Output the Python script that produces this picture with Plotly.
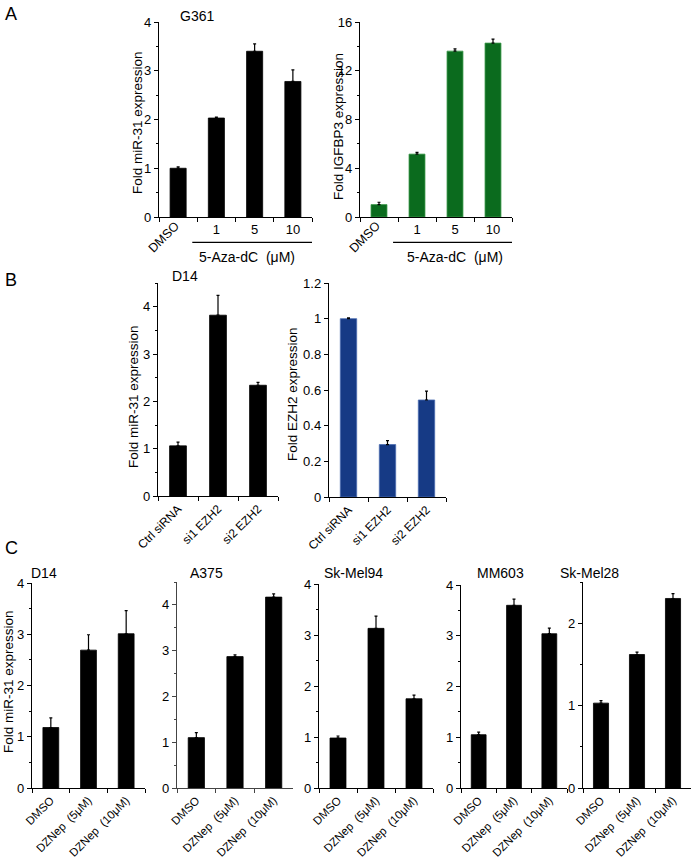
import plotly.graph_objects as go

W, H = 693, 859

# ---------------- data ----------------
A_cats = ["DMSO", "1", "5", "10"]
A_mir31 = [1.0, 2.03, 3.40, 2.78]
A_mir31_err = [0.03, 0.02, 0.15, 0.24]
A_igfbp3 = [1.02, 5.16, 13.61, 14.27]
A_igfbp3_err = [0.19, 0.14, 0.19, 0.33]

B_cats = ["Ctrl siRNA", "si1 EZH2", "si2 EZH2"]
B_mir31 = [1.06, 3.82, 2.34]
B_mir31_err = [0.08, 0.42, 0.06]
B_ezh2 = [1.0, 0.294, 0.544]
B_ezh2_err = [0.005, 0.022, 0.05]

C_cats = ["DMSO", "DZNep\u00a0\u00a0(5μM)", "DZNep\u00a0\u00a0(10μM)"]
C_lines = ["D14", "A375", "Sk-Mel94", "MM603", "Sk-Mel28"]
C_vals = {
    "D14": [1.18, 2.69, 3.01],
    "A375": [1.10, 2.87, 4.17],
    "Sk-Mel94": [0.98, 3.13, 1.75],
    "MM603": [1.05, 3.60, 3.04],
    "Sk-Mel28": [1.03, 1.62, 2.30],
}
C_errs = {
    "D14": [0.19, 0.30, 0.45],
    "A375": [0.11, 0.04, 0.07],
    "Sk-Mel94": [0.04, 0.24, 0.07],
    "MM603": [0.05, 0.12, 0.11],
    "Sk-Mel28": [0.03, 0.03, 0.06],
}
C_ymax = {"D14": 4, "A375": 4.5, "Sk-Mel94": 4, "MM603": 4, "Sk-Mel28": 2.5}

FONT = "Arial, Liberation Sans, Helvetica, sans-serif"
GREEN = "#0b6b1e"
BLUE = "#163a85"

fig = go.Figure()
layout = {}
annotations = []
shapes = []


def px(x):
    return x / W


def py(y):
    return 1 - y / H


def add_panel(i, cats, vals, errs, color, xl, xr, yt, yb, ymax, dtick, minor,
              ticktext=None, tickangle=0, tfs=12, line_color="black", edge=None):
    xa = "x" if i == 1 else f"x{i}"
    ya = "y" if i == 1 else f"y{i}"
    fig.add_trace(go.Bar(
        x=cats, y=vals, width=0.42, xaxis=xa, yaxis=ya,
        marker=dict(color=color, line=dict(color=edge or color, width=0.8)),
        error_y=dict(type="data", symmetric=False, array=errs,
                     arrayminus=[0] * len(errs), color="black",
                     thickness=1.2, width=1.5),
        showlegend=False, hoverinfo="skip",
    ))
    xk = "xaxis" if i == 1 else f"xaxis{i}"
    yk = "yaxis" if i == 1 else f"yaxis{i}"
    layout[xk] = dict(
        domain=[px(xl), px(xr)], anchor=ya, type="category", automargin=False,
        range=[-0.5, len(cats) - 0.5],
        showline=True, linecolor=line_color, linewidth=1.2,
        ticks="outside", tickson="boundaries", ticklen=4, tickcolor=line_color,
        tickvals=cats, ticktext=ticktext if ticktext is not None else cats,
        tickangle=tickangle, tickfont=dict(family=FONT, size=tfs, color="black"),
        showgrid=False, zeroline=False, fixedrange=True,
    )
    ydict = dict(
        domain=[py(yb), py(yt)], anchor=xa, range=[0, ymax], automargin=False,
        showline=True, linecolor=line_color, linewidth=1.2,
        ticks="outside", ticklen=4, tickcolor=line_color, dtick=dtick, tick0=0,
        tickfont=dict(family=FONT, size=13, color="black"),
        showgrid=False, zeroline=False, fixedrange=True,
    )
    if minor:
        ydict["minor"] = dict(dtick=minor, ticks="outside", ticklen=2,
                              tickcolor=line_color, showgrid=False)
    layout[yk] = ydict


def text(x, y, s, size=13, angle=0, xanchor="center", yanchor="middle"):
    annotations.append(dict(
        x=px(x), y=py(y), xref="paper", yref="paper", text=s, showarrow=False,
        textangle=angle, xanchor=xanchor, yanchor=yanchor,
        font=dict(family=FONT, size=size, color="black"),
    ))


# ---------------- panel A ----------------
a_ticktext = ["" if c == "DMSO" else c for c in A_cats]
add_panel(1, A_cats, A_mir31, A_mir31_err, "black", 159, 312, 22, 217, 4, 1, 0.5,
          ticktext=a_ticktext, tfs=13)
add_panel(2, A_cats, A_igfbp3, A_igfbp3_err, GREEN, 360, 512, 22, 217, 16, 4, 2,
          ticktext=a_ticktext, tfs=13, edge="#3f9a4c")
for ax, ref in (("x", "y"), ("x2", "y2")):
    annotations.append(dict(
        x=A_cats[0], y=0, xref=ax, yref=ref, text="DMSO", showarrow=False,
        textangle=-45, xanchor="center", yanchor="middle", xshift=-14, yshift=-20,
        font=dict(family=FONT, size=12.5, color="black"),
    ))
    shapes.append(dict(type="line", xref=ax, yref=ref + " domain",
                       x0=0.37, x1=3.5, y0=-0.13, y1=-0.13,
                       line=dict(color="black", width=1.2)))
text(247, 257, "5-Aza-dC\u00a0\u00a0(μM)", size=14)
text(455, 257, "5-Aza-dC\u00a0\u00a0(μM)", size=14)
text(197, 16, "G361", size=14)
text(137, 123, "Fold miR-31 expression", size=13.5, angle=-90)
text(338, 127, "Fold IGFBP3 expression", size=13.5, angle=-90)
text(3, 14, "A", size=18, xanchor="left")

# ---------------- panel B ----------------
add_panel(3, B_cats, B_mir31, B_mir31_err, "black", 158, 278, 283, 496, 4.5, 1, 0.5,
          tickangle=-45, tfs=12)
add_panel(4, B_cats, B_ezh2, B_ezh2_err, BLUE, 329, 446, 283, 497, 1.2, 0.2, None,
          tickangle=-45, tfs=12, edge="#4a6cb0")
text(185, 276, "D14", size=14)
text(133, 397, "Fold miR-31 expression", size=13.5, angle=-90)
text(292, 394, "Fold EZH2 expression", size=13.5, angle=-90)
text(3, 280, "B", size=18, xanchor="left")

# ---------------- panel C ----------------
C_pos = {
    "D14": (32, 145, 583),
    "A375": (177, 293, 582),
    "Sk-Mel94": (319, 433, 584),
    "MM603": (461, 567, 585),
    "Sk-Mel28": (583, 691, 582),
}
C_title_x = {"D14": 44, "A375": 206, "Sk-Mel94": 353, "MM603": 500, "Sk-Mel28": 589}
for k, name in enumerate(C_lines):
    xl, xr, yt = C_pos[name]
    add_panel(5 + k, C_cats, C_vals[name], C_errs[name], "black", xl, xr, yt, 788,
              C_ymax[name], 1, 0.5, tickangle=-45, tfs=11.5,
              line_color="#444" if name == "A375" else "black")
    text(C_title_x[name], 573, name, size=14)
text(8, 682, "Fold miR-31 expression", size=13.5, angle=-90)
text(3, 548, "C", size=18, xanchor="left")

fig.update_layout(
    template="none",
    width=W, height=H, margin=dict(l=0, r=0, t=0, b=0, autoexpand=False),
    paper_bgcolor="white", plot_bgcolor="white",
    annotations=annotations, shapes=shapes, bargap=0,
    font=dict(family=FONT, color="black"),
    hovermode=False,
    **layout,
)
fig.write_html(
    "out.html",
    config={"displayModeBar": False, "staticPlot": True},
    post_script="document.body.style.margin='0';document.body.style.padding='0';"
                "document.body.style.overflow='hidden';",
)
